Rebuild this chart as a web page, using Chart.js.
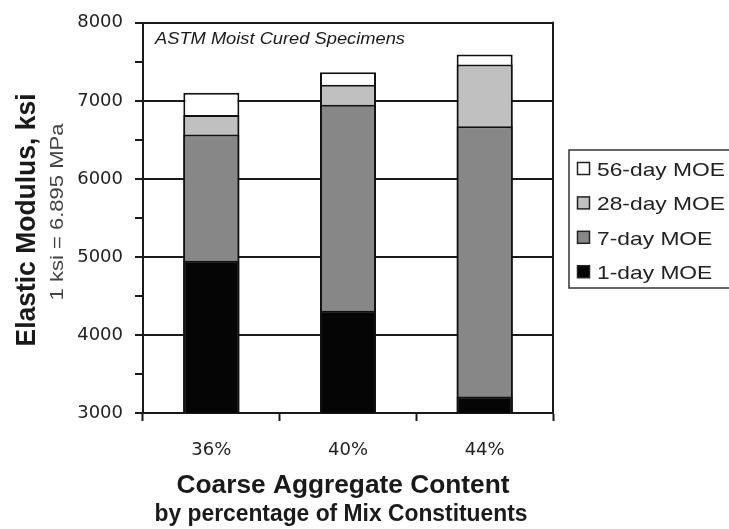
<!DOCTYPE html>
<html>
<head>
<meta charset="utf-8">
<script src="https://cdn.jsdelivr.net/npm/chart.js@4/dist/chart.umd.min.js"></script>
<style>
  html, body { margin: 0; padding: 0; background: #fff; }
  #chart { display: block; }
</style>
</head>
<body>
<canvas id="chart" width="729" height="529"></canvas>
<script>
"use strict";

const categories = ['36%', '40%', '44%'];
const seriesLabels = ['56-day MOE', '28-day MOE', '7-day MOE', '1-day MOE'];
const moe56 = [7105, 7365, 7595];
const moe28 = [6820, 7205, 7465];
const moe7 = [6570, 6950, 6675];
const moe1 = [4950, 4310, 3210];
const yMin = 3000;
const yMax = 8000;

const FONT = '"Liberation Sans", Arial, sans-serif';

// draw a line of text squeezed/stretched to a given width
function fitText(ctx, text, x, y, font, width, align, rot) {
  ctx.save();
  ctx.font = font;
  const w = ctx.measureText(text).width;
  ctx.translate(x, y);
  if (rot) ctx.rotate(rot);
  ctx.scale(width / w, 1);
  ctx.textAlign = align;
  ctx.textBaseline = 'alphabetic';
  ctx.fillText(text, 0, 0);
  ctx.restore();
}

const decorations = {
  id: 'decorations',
  beforeDraw(chart) {
    const ctx = chart.ctx;
    ctx.save();
    ctx.fillStyle = '#fff';
    ctx.fillRect(0, 0, chart.width, chart.height);
    ctx.restore();
  },
  afterDraw(chart) {
    const ctx = chart.ctx;
    const a = chart.chartArea;

    // right edge of the plot frame
    ctx.save();
    ctx.strokeStyle = '#1a1a1a';
    ctx.lineWidth = 2;
    ctx.beginPath();
    ctx.moveTo(a.right, a.top - 1);
    ctx.lineTo(a.right, a.bottom + 1);
    ctx.stroke();
    ctx.restore();

    ctx.save();
    ctx.fillStyle = '#1a1a1a';
    fitText(ctx, 'ASTM Moist Cured Specimens', 155, 44, 'italic 17px ' + FONT, 250, 'left');

    // axis titles
    fitText(ctx, 'Elastic Modulus, ksi', 35, 220, 'bold 28px ' + FONT, 253, 'center', -Math.PI / 2);
    fitText(ctx, 'Coarse Aggregate Content', 343, 493, 'bold 25px ' + FONT, 333, 'center');
    fitText(ctx, 'by percentage of Mix Constituents', 341, 521, 'bold 23px ' + FONT, 373, 'center');
    ctx.fillStyle = '#444';
    fitText(ctx, '1 ksi = 6.895 MPa', 63, 212, '18px ' + FONT, 177, 'center', -Math.PI / 2);
    ctx.restore();

    // legend
    ctx.save();
    ctx.strokeStyle = '#333';
    ctx.lineWidth = 1.5;
    ctx.strokeRect(569, 150, 170, 138);
    ctx.font = '19px ' + FONT;
    const sx = 128 / ctx.measureText(seriesLabels[0]).width;
    chart.data.datasets.forEach((ds, i) => {
      const base = 176 + i * 34.4;
      ctx.fillStyle = ds.backgroundColor;
      ctx.fillRect(577.5, base - 13.5, 12, 12);
      ctx.strokeStyle = '#222';
      ctx.lineWidth = 1.5;
      ctx.strokeRect(577.5, base - 13.5, 12, 12);
      ctx.fillStyle = '#222';
      fitText(ctx, ds.label, 597, base, '19px ' + FONT, ctx.measureText(ds.label).width * sx, 'left');
    });
    ctx.restore();
  }
};

const fills = ['#ffffff', '#c0c0c0', '#878787', '#050505'];
const values = [moe56, moe28, moe7, moe1];

new Chart(document.getElementById('chart'), {
  type: 'bar',
  data: {
    labels: categories,
    datasets: seriesLabels.map((label, i) => ({
      label: label,
      data: values[i],
      backgroundColor: fills[i],
      borderColor: '#111',
      borderWidth: 2,
      grouped: false,
      // later series (shorter bars) must sit on top
      order: seriesLabels.length - i,
      barPercentage: 0.41,
      categoryPercentage: 1.0,
    })),
  },
  options: {
    responsive: false,
    animation: false,
    events: [],
    layout: { padding: { top: 20, right: 176, left: 0, bottom: 0 } },
    plugins: {
      legend: { display: false },
      tooltip: { enabled: false },
    },
    scales: {
      x: {
        offset: true,
        grid: {
          offset: true,
          drawOnChartArea: false,
          tickLength: 8,
          tickColor: '#1a1a1a',
          tickWidth: 2,
        },
        border: { color: '#1a1a1a', width: 2 },
        ticks: {
          color: '#222',
          font: { family: '"DejaVu Sans"', size: 18 },
          padding: 19,
        },
        afterFit(scale) { scale.height = 116; },
      },
      y: {
        min: yMin,
        max: yMax,
        grid: {
          color: (c) => (c.tick && c.tick.value % 1000 === 0 ? '#1a1a1a' : 'rgba(0,0,0,0)'),
          lineWidth: 2,
          tickLength: 8,
          tickColor: '#1a1a1a',
          tickWidth: 2,
        },
        border: { color: '#1a1a1a', width: 2 },
        ticks: {
          stepSize: 500,
          autoSkip: false,
          color: '#222',
          font: { family: '"DejaVu Sans"', size: 18 },
          padding: 12,
          callback: (v) => (v % 1000 === 0 ? String(v) : ''),
        },
        afterFit(scale) { scale.width = 143; },
      },
    },
  },
  plugins: [decorations],
});
</script>
</body>
</html>
